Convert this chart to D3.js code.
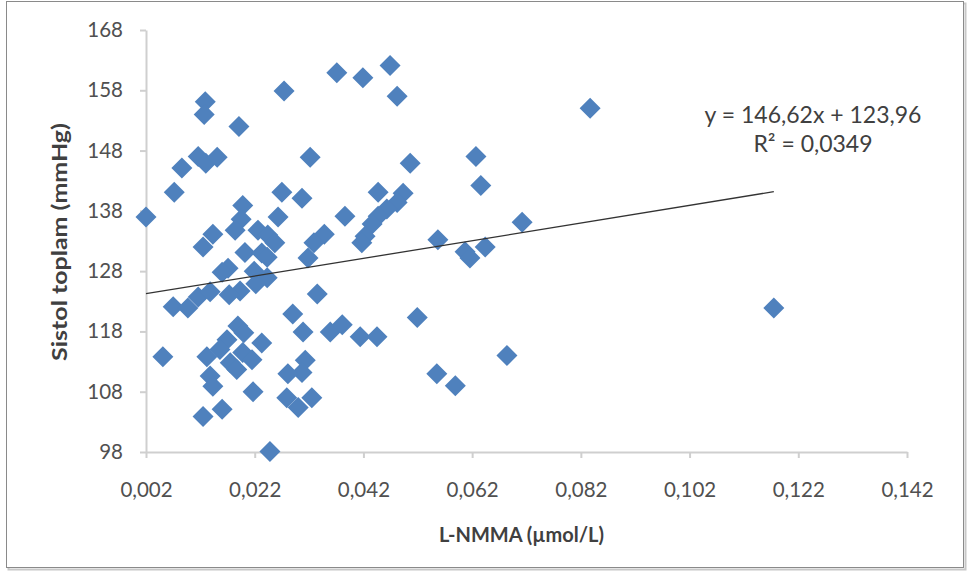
<!DOCTYPE html>
<html>
<head>
<meta charset="utf-8">
<script src="https://cdn.jsdelivr.net/npm/d3@7/dist/d3.min.js"></script>
<style>
  body { margin: 0; background: #fff; }
  text { font-family: Lato, "Open Sans", sans-serif; }
  .tick text { fill: #505050; font-size: 20.5px; }
  .axis path, .axis line { stroke: #cfcfcf; stroke-width: 2px; }
  .label { fill: #404040; font-weight: bold; font-size: 20px; }
  .eq { fill: #404040; font-size: 23px; }
</style>
</head>
<body>
<div id="chart"></div>
<script>
// L-NMMA (µmol/L) values
var lnmma = [
  0.002, 0.0051, 0.0072, 0.0086, 0.0070, 0.0097, 0.0116, 0.0116, 0.0130, 0.0151,
  0.0129, 0.0127, 0.0191, 0.0274, 0.0322, 0.0371, 0.0419, 0.0469, 0.0482, 0.0506,
  0.0627, 0.0636, 0.0837, 0.1175, 0.0712, 0.0557, 0.0644, 0.0607, 0.0616, 0.0519,
  0.0555, 0.0589, 0.0684, 0.0307, 0.0270, 0.0447, 0.0493, 0.0482, 0.0463, 0.0447,
  0.0436, 0.0423, 0.0417, 0.0386, 0.0348, 0.0329, 0.0318, 0.0335, 0.0290, 0.0309,
  0.0359, 0.0381, 0.0414, 0.0445, 0.0313, 0.0307, 0.0281, 0.0279, 0.0300, 0.0325,
  0.0198, 0.0195, 0.0184, 0.0226, 0.0263, 0.0244, 0.0257, 0.0202, 0.0233, 0.0171,
  0.0219, 0.0243, 0.0243, 0.0222, 0.0193, 0.0173, 0.0138, 0.0160, 0.0143, 0.0125,
  0.0189, 0.0169, 0.0233, 0.0132, 0.0156, 0.0198, 0.0175, 0.0215, 0.0187, 0.0138,
  0.0143, 0.0217, 0.0125, 0.0160, 0.0248, 0.0200
];

// Sistol toplam (mmHg) values, same order
var sistol = [
  137.0, 113.8, 141.1, 145.1, 122.1, 121.9, 123.7, 147.0, 145.9, 146.9,
  156.1, 154.0, 152.0, 157.9, 146.9, 160.9, 160.1, 162.1, 157.0, 145.9,
  147.0, 142.2, 155.0, 121.9, 136.1, 133.2, 132.0, 131.2, 130.2, 120.3,
  111.0, 109.0, 114.0, 140.1, 141.1, 141.1, 140.9, 139.4, 138.3, 137.1,
  135.8, 133.8, 132.7, 137.1, 134.1, 132.7, 130.2, 124.2, 120.9, 117.9,
  117.9, 119.1, 117.1, 117.1, 113.2, 111.2, 111.0, 107.0, 105.4, 107.0,
  138.9, 136.6, 134.8, 134.8, 137.0, 134.0, 132.7, 131.1, 131.0, 128.5,
  128.0, 130.3, 126.9, 125.9, 124.7, 124.1, 124.6, 127.8, 134.1, 132.0,
  118.9, 116.6, 116.1, 113.8, 115.0, 114.5, 112.8, 113.3, 111.7, 110.6,
  108.9, 108.0, 103.9, 105.1, 98.1, 117.8
];

var xTicks = [0.002, 0.022, 0.042, 0.062, 0.082, 0.102, 0.122, 0.142];
var yTicks = [98, 108, 118, 128, 138, 148, 158, 168];

// trendline as printed on the chart
var slope = 146.62;
var intercept = 123.96;
var eqLines = ["y = 146,62x + 123,96", "R² = 0,0349"];

var labels = { x: "L-NMMA (µmol/L)", y: "Sistol toplam (mmHg)" };

var W = 969, H = 581;
var margin = { top: 30, right: 62, bottom: 129, left: 146 };
var width = W - margin.left - margin.right;
var height = H - margin.top - margin.bottom;

var svg = d3.select("#chart").append("svg")
  .attr("width", W)
  .attr("height", H);

// outer chart frame
svg.append("rect")
  .attr("x", 8.5).attr("y", 3.5)
  .attr("width", 957).attr("height", 566)
  .attr("fill", "none")
  .attr("stroke", "#c8c8c8")
  .attr("stroke-width", 2);
svg.append("rect")
  .attr("x", 6.5).attr("y", 1.5)
  .attr("width", 957).attr("height", 566)
  .attr("fill", "#fff")
  .attr("stroke", "#8a8a8a");

var g = svg.append("g")
  .attr("transform", "translate(" + margin.left + "," + margin.top + ")");

var x = d3.scaleLinear().domain([0.002, 0.142]).range([0, width]);
var y = d3.scaleLinear().domain([98, 168]).range([height, 0]);

var fmt = function(d){ return d3.format(".3f")(d).replace(".", ","); };

g.append("g")
  .attr("class", "axis axis--x")
  .attr("transform", "translate(0," + height + ")")
  .call(d3.axisBottom(x).tickValues(xTicks).tickFormat(fmt).tickSizeInner(6).tickSizeOuter(0).tickPadding(24));

g.append("g")
  .attr("class", "axis axis--y")
  .call(d3.axisLeft(y).tickValues(yTicks).tickSizeInner(6).tickSizeOuter(0).tickPadding(17));

// points
var data = lnmma.map(function(v, i){ return { x: v, y: sistol[i] }; });
var r = 10.5;
g.selectAll(".dot")
  .data(data)
  .enter().append("path")
  .attr("class", "dot")
  .attr("d", "M0," + (-r) + "L" + r + ",0L0," + r + "L" + (-r) + ",0Z")
  .attr("transform", function(d){ return "translate(" + x(d.x) + "," + y(d.y) + ")"; })
  .attr("fill", "#4F81BD");

// linear trendline over the data range
var xr = d3.extent(lnmma);
g.append("line")
  .attr("x1", x(xr[0])).attr("y1", y(slope * xr[0] + intercept))
  .attr("x2", x(xr[1])).attr("y2", y(slope * xr[1] + intercept))
  .attr("stroke", "#333")
  .attr("stroke-width", 1.3);

// equation label
svg.selectAll(".eq")
  .data(eqLines)
  .enter().append("text")
  .attr("class", "eq")
  .attr("text-anchor", "middle")
  .attr("x", 813)
  .attr("y", function(d, i){ return 123 + i * 29; })
  .text(function(d){ return d; });

// axis titles
svg.append("text")
  .attr("class", "label")
  .attr("text-anchor", "middle")
  .attr("x", margin.left + width / 2 - 5)
  .attr("y", 542)
  .text(labels.x);

svg.append("text")
  .attr("class", "label")
  .attr("text-anchor", "middle")
  .style("font-size", "25px")
  .attr("transform", "translate(67,242)rotate(-90)scale(1,0.82)")
  .text(labels.y);
</script>
</body>
</html>
